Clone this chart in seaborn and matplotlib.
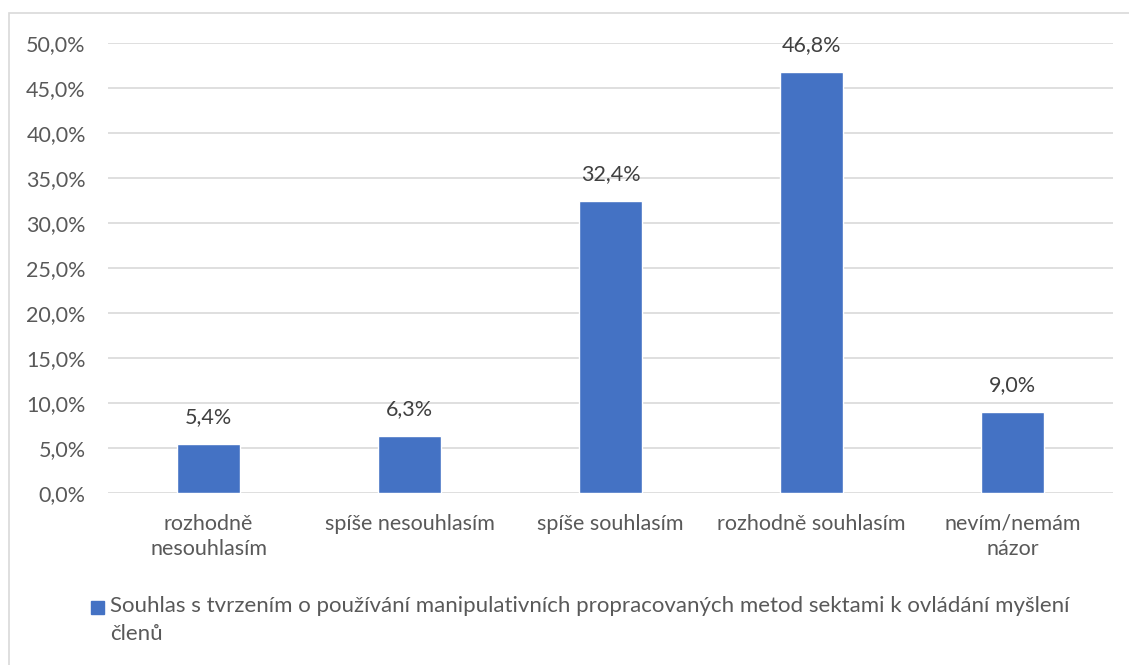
import matplotlib.pyplot as plt
import numpy as np
import pandas as pd
import seaborn as sns
from matplotlib.patches import Rectangle

# data
categories = ['rozhodně\nnesouhlasím', 'spíše nesouhlasím', 'spíše souhlasím',
              'rozhodně souhlasím', 'nevím/nemám\nnázor']
values = [5.4, 6.3, 32.4, 46.8, 9.0]
series_name = ('Souhlas s tvrzením o používání manipulativních propracovaných metod sektami k ovládání myšlení\n'
               'členů')

df = pd.DataFrame({'kategorie': categories, 'podil': values})

sns.set_theme(style='white')
plt.rcParams['font.family'] = ['Lato', 'DejaVu Sans']

txt = '#595959'
grid = '#D9D9D9'
blue = '#4472C4'
fs = 15.5

fig = plt.figure(figsize=(11.29, 6.65), dpi=100)
ax = fig.add_axes([108 / 1129, 1 - 493 / 665, 1005 / 1129, 450 / 665])

sns.barplot(data=df, x='kategorie', y='podil', color=blue, width=0.31,
            saturation=1, ax=ax, zorder=3)

ax.set_ylim(0, 50)
ax.set_xlim(-0.5, 4.5)
ax.set_yticks(np.arange(0, 50.1, 5))
ax.set_yticklabels([f'{v:.1f}%'.replace('.', ',') for v in np.arange(0, 50.1, 5)])
ax.yaxis.grid(True, color=grid, linewidth=1.2, zorder=0)
ax.set_xlabel('')
ax.set_ylabel('')
for s in ax.spines.values():
    s.set_visible(False)
ax.tick_params(axis='both', length=0, labelsize=fs, colors=txt)
ax.tick_params(axis='y', pad=16)
ax.tick_params(axis='x', pad=15)
for lab in ax.get_xticklabels():
    lab.set_linespacing(1.35)

for i, v in enumerate(values):
    ax.text(i, v + 1.9, f'{v:.1f}%'.replace('.', ','), ha='center', va='bottom',
            fontsize=fs, color='#404040')

# legend
fig.patches.append(Rectangle((91 / 1129, 1 - 614 / 665), 13 / 1129, 13 / 665,
                             transform=fig.transFigure, color=blue))
fig.text(110 / 1129, 1 - 596 / 665, series_name, ha='left', va='top',
         fontsize=16, color=txt, linespacing=1.5)

# outer border
fig.patches.append(Rectangle((9 / 1129, -0.05), 1.1, 1 - 13 / 665 + 0.05,
                             transform=fig.transFigure, fill=False,
                             edgecolor=grid, linewidth=1.2))

fig.savefig('out.png', dpi=100)
